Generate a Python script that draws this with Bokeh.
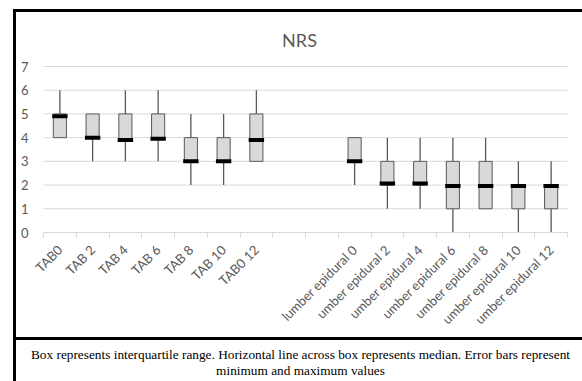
from bokeh.plotting import figure
from bokeh.models import Range1d, FixedTicker, Label, BoxAnnotation, ColumnDataSource
from bokeh.embed import file_html
from bokeh.resources import INLINE
import math

# ---- data ----
tab_labels = ["TAB0", "TAB 2", "TAB 4", "TAB 6", "TAB 8", "TAB 10", "TAB0 12"]
epi_labels = ["lumber epidural 0", "umber epidural 2", "umber epidural 4", "umber epidural 6",
              "umber epidural 8", "umber epidural 10", "umber epidural 12"]
gap_slots = 2

tab_min = [4, 3, 3, 3, 2, 2, 3]
tab_q1 = [4, 4, 3.85, 3.92, 3, 3, 3]
tab_med = [4.9, 4.0, 3.9, 3.95, 3.0, 3.0, 3.9]
tab_q3 = [5, 5, 5, 5, 4, 4, 5]
tab_max = [6, 5, 6, 6, 5, 5, 6]

epi_min = [2, 1, 1, 0, 1, 0, 0]
epi_q1 = [3, 2, 2, 1, 1, 1, 1]
epi_med = [3.0, 2.07, 2.07, 1.96, 1.96, 1.96, 1.96]
epi_q3 = [4, 3, 3, 3, 3, 2, 2]
epi_max = [4, 4, 4, 4, 4, 3, 3]

title_text = "NRS"
caption1 = "Box represents interquartile range. Horizontal line across box represents median. Error bars represent"
caption2 = "minimum and maximum values"
y_ticks = [0, 1, 2, 3, 4, 5, 6, 7]

# ---- layout (pixels) ----
W, H = 582, 381
CH_L, CH_R = 43, 567      # left / right edge of category axis
Y_BOT, Y_TOP = 232, 66    # pixel rows of y=0 and y=7

labels = tab_labels + epi_labels
n_slots = len(tab_labels) + gap_slots + len(epi_labels)
xs = [i + 0.5 for i in range(len(tab_labels))] + \
     [len(tab_labels) + gap_slots + i + 0.5 for i in range(len(epi_labels))]
mins = tab_min + epi_min
q1 = tab_q1 + epi_q1
med = tab_med + epi_med
q3 = tab_q3 + epi_q3
maxs = tab_max + epi_max

y_lo, y_hi = y_ticks[0], y_ticks[-1]
ppx = (CH_R - CH_L) / n_slots
ppy = (Y_BOT - Y_TOP) / (y_hi - y_lo)
x_range = Range1d(0 - CH_L / ppx, n_slots + (W - CH_R) / ppx)
y_range = Range1d(y_lo - (H - Y_BOT) / ppy, y_hi + Y_TOP / ppy)

p = figure(width=W, height=H, output_backend="svg", toolbar_location=None,
           x_range=x_range, y_range=y_range,
           min_border=0, min_border_left=0, min_border_right=0,
           min_border_top=0, min_border_bottom=0)
p.title.visible = False
p.outline_line_color = None
p.background_fill_color = "white"
p.border_fill_color = "white"
p.xgrid.visible = False
p.ygrid.visible = False

# gridlines across the category area
p.segment(x0=[0] * len(y_ticks), x1=[n_slots] * len(y_ticks), y0=y_ticks, y1=y_ticks,
          line_color="#d9d9d9", line_width=1)

src = ColumnDataSource(dict(x=xs, mn=mins, q1=q1, med=med, q3=q3, mx=maxs,
                            x0=[x - 0.235 for x in xs], x1=[x + 0.235 for x in xs]))

whisk = "#595959"
p.segment(x0="x", y0="q3", x1="x", y1="mx", source=src, line_color=whisk, line_width=1.3)
p.segment(x0="x", y0="mn", x1="x", y1="q1", source=src, line_color=whisk, line_width=1.3)
p.vbar(x="x", bottom="q1", top="q3", width=0.4, source=src,
       fill_color="#d9d9d9", line_color="#595959", line_width=1)
p.segment(x0="x0", y0="med", x1="x1", y1="med", source=src, line_color="black",
          line_width=4, line_cap="butt")

# axes (fixed inside the full-canvas frame)
xa = p.xaxis[0]
xa.fixed_location = y_lo
xa.bounds = (0, n_slots)
xa.ticker = FixedTicker(ticks=xs, minor_ticks=list(range(n_slots + 1)))
xa.major_label_overrides = {x: l for x, l in zip(xs, labels)}
xa.major_label_orientation = math.pi / 4
xa.major_tick_line_color = None
xa.major_tick_out = 0
xa.major_tick_in = 0
xa.minor_tick_line_color = "#d9d9d9"
xa.minor_tick_out = 5
xa.minor_tick_in = 0
xa.axis_line_color = "#d9d9d9"
xa.major_label_text_font = "Lato"
xa.major_label_text_font_size = "13px"
xa.major_label_text_color = "#595959"
xa.major_label_standoff = 10

ya = p.yaxis[0]
ya.fixed_location = 0
ya.bounds = (y_lo, y_hi)
ya.ticker = FixedTicker(ticks=y_ticks)
ya.axis_line_color = None
ya.major_tick_line_color = None
ya.major_tick_out = 0
ya.major_tick_in = 0
ya.minor_tick_line_color = None
ya.minor_tick_out = 0
ya.major_label_text_font = "Lato"
ya.major_label_text_font_size = "13px"
ya.major_label_text_color = "#595959"
ya.major_label_standoff = 15

# texts (screen units: x from left, y from bottom)
p.add_layout(Label(x=299, y=H - 39, x_units="screen", y_units="screen", text=title_text,
                   text_font="Lato", text_font_size="18px", text_color="#595959",
                   text_align="center", text_baseline="alphabetic"))
p.add_layout(Label(x=300, y=H - 354, x_units="screen", y_units="screen", text=caption1,
                   text_font="Liberation Serif", text_font_size="13.3px", text_color="black",
                   text_align="center", text_baseline="middle"))
p.add_layout(Label(x=300, y=H - 370, x_units="screen", y_units="screen", text=caption2,
                   text_font="Liberation Serif", text_font_size="13.3px", text_color="black",
                   text_align="center", text_baseline="middle"))

# outer frame lines
def box(l, r, t, b):
    return BoxAnnotation(left=l, right=r, top=H - t, bottom=H - b,
                         left_units="screen", right_units="screen",
                         top_units="screen", bottom_units="screen",
                         fill_color="black", fill_alpha=1, line_color=None, level="overlay")

p.add_layout(box(12.5, 15.5, 8.5, H + 5))
p.add_layout(box(12.5, W + 10, 8.5, 11.5))
p.add_layout(box(12.5, W + 10, 336.5, 339.5))

open("out.html", "w").write(file_html(p, INLINE))
